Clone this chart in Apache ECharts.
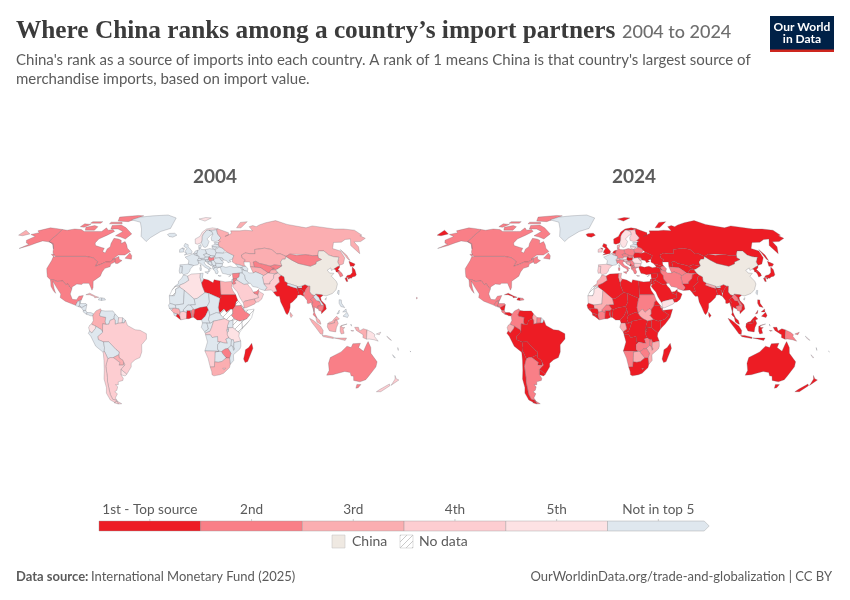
<!DOCTYPE html>
<html><head><meta charset="utf-8">
<style>html,body{margin:0;padding:0;background:#fff}#c{width:850px;height:600px}</style>
<script src="https://cdn.jsdelivr.net/npm/echarts@6/dist/echarts.min.js"></script>
</head><body><div id="c"></div>
<script>
const years = ['2004','2024'];
// rank codes: 1-5 = rank, 6 = not in top 5, 0 = China, 7 = no data
const namesAmericas = ['Canada','United States','Mexico','Greenland','Guatemala','Belize','Honduras','El Salvador','Nicaragua','Costa Rica','Panama','Cuba','Haiti','Dominican Republic','Colombia','Venezuela','Guyana','Suriname','French Guiana','Brazil','Ecuador','Peru','Bolivia','Paraguay','Uruguay','Argentina','Chile'];
const rank2004Americas = [2,2,2,6,6,6,6,6,6,6,6,3,6,6,3,6,6,5,6,4,5,6,6,3,5,4,4];
const rank2024Americas = [2,2,2,6,2,2,2,2,1,2,1,1,1,2,2,1,3,2,6,1,3,1,1,1,1,2,1];
const namesEurope = ['Iceland','Ireland','United Kingdom','Norway','Sweden','Finland','Denmark','Estonia','Latvia','Lithuania','Belarus','Poland','Germany','Netherlands','Belgium','France','Spain','Portugal','Switzerland','Austria','Italy','Czechia','Slovakia','Hungary','Slovenia','Croatia','Bosnia','Serbia','Montenegro','Albania','North Macedonia','Greece','Bulgaria','Romania','Moldova','Ukraine','Russia','Cyprus'];
const rank2004Europe = [6,6,6,5,6,6,6,6,6,6,6,6,6,6,6,6,6,6,6,6,6,6,6,2,6,6,6,6,6,6,6,6,6,6,6,6,3,6];
const rank2024Europe = [1,4,1,1,5,4,3,6,6,5,2,2,2,1,3,6,4,4,3,5,2,2,2,1,4,3,3,2,1,2,2,2,4,5,3,1,1,2];
const namesWestAsia = ['Turkey','Georgia','Armenia','Azerbaijan','Kazakhstan','Uzbekistan','Turkmenistan','Kyrgyzstan','Tajikistan','Afghanistan','Pakistan','Iran','Iraq','Syria','Israel','Jordan','Saudi Arabia','Yemen','Oman','UAE'];
const rank2004WestAsia = [6,6,6,6,3,2,3,2,3,4,4,6,6,2,6,2,4,3,4,2];
const rank2024WestAsia = [1,1,1,2,1,1,2,1,1,2,1,2,1,1,1,1,1,5,1,1];
const namesEastAsia = ['China','Mongolia','India','Nepal','Bhutan','Bangladesh','Sri Lanka','Myanmar','Thailand','Laos','Cambodia','Vietnam','Malaysia','Indonesia','Philippines','Papua New Guinea','North Korea','South Korea','Japan','Taiwan'];
const rank2004EastAsia = [0,2,1,6,6,1,3,2,2,6,2,1,3,3,6,5,1,2,1,6];
const rank2024EastAsia = [0,1,1,3,6,1,1,1,1,2,2,1,1,1,1,2,1,1,1,6];
const namesOceania = ['Australia','New Zealand','Fiji','Solomon Islands','New Caledonia','Vanuatu'];
const rank2004Oceania = [2,4,5,5,6,6];
const rank2024Oceania = [1,1,2,5,5,5];
const namesAfrica = ['Morocco','Western Sahara','Algeria','Tunisia','Libya','Egypt','Sudan','South Sudan','Eritrea','Djibouti','Ethiopia','Somalia','Kenya','Uganda','Tanzania','Rwanda','Burundi','Mauritania','Senegal','Guinea-Bissau','Guinea','Sierra Leone','Liberia','Ivory Coast','Ghana','Togo','Benin','Burkina Faso','Mali','Niger','Nigeria','Chad','Cameroon','Central African Rep.','Gabon','Congo','DR Congo','Angola','Zambia','Malawi','Mozambique','Zimbabwe','Botswana','Namibia','South Africa','Lesotho','Madagascar'];
const rank2004Africa = [6,7,5,6,1,3,1,7,7,6,2,7,7,6,5,6,6,6,6,6,3,6,1,4,1,2,2,6,6,6,1,6,6,6,6,6,4,6,6,6,6,2,6,4,3,5,1];
const rank2024Africa = [3,7,1,3,1,1,2,3,1,1,1,1,1,1,1,1,1,5,1,1,1,1,1,2,1,1,1,2,3,1,1,1,1,1,3,1,1,1,2,2,3,2,3,2,1,2,1];

const countries = [...namesAmericas,...namesEurope,...namesWestAsia,...namesEastAsia,...namesOceania,...namesAfrica];
const rank2004 = [...rank2004Americas,...rank2004Europe,...rank2004WestAsia,...rank2004EastAsia,...rank2004Oceania,...rank2004Africa];
const rank2024 = [...rank2024Americas,...rank2024Europe,...rank2024WestAsia,...rank2024EastAsia,...rank2024Oceania,...rank2024Africa];

const legendLabels = ['1st - Top source','2nd','3rd','4th','5th','Not in top 5'];
const rankColors = {1:'#ed1c24',2:'#f97f87',3:'#fbaeb1',4:'#fdcdd1',5:'#fde2e4',6:'#dfe7ee',0:'#efe9e2'};

// Base map outlines (lon,lat); ';' separates parts of one country
const outlines = {
'Canada':'-141,69.6 -135,69 -128,70 -120,69.5 -115,68 -108,68 -100,68 -96,68 -94,71 -90,69 -85,69.5 -82,68 -87,65 -93,62 -94,59 -92,57 -85,55.5 -82,55 -82,52.5 -79,51.5 -79,54.5 -77,56 -78,58.5 -78,62.5 -73,62 -69.5,61 -68,58.5 -65,60 -62,57.5 -60,55 -56,52.5 -60,50 -66,50 -70,47 -65,49 -64,47 -61,46 -64,44 -66,44 -67,45 -68,47.3 -70,46 -71.5,45 -75,45 -79,43.3 -83,42 -82.5,45.3 -88,48 -95,49 -123,49 -125,50 -128,52 -130,54.5 -135,58.5 -137.5,59 -141,60;-62,66 -66,62 -72,63.5 -78,64.5 -73,68 -80,70 -88,70 -90,73 -80,73.5 -72,71;-105,69 -115,69 -118,71.5 -110,73 -105,72;-62,82.5 -75,76.5 -88,77 -92,81 -70,83;-125,72 -120,71.5 -116,74 -124,74.5;-59,47.7 -53,47 -53.5,49.5 -56,51.5;-95,74.5 -80,74.5 -82,76 -95,76;-118,75 -106,75 -106,76.5 -118,76.5;-128,50.5 -124,48.5 -123.5,49 -126,50.8',
'United States':'-123,49 -95,49 -88,48 -82.5,45.3 -83,42 -79,43.3 -75,45 -71.5,45 -70,46 -68,47.3 -67,45 -70,43.5 -70,41.7 -74,40.5 -75.5,38 -76,35 -81,31.5 -80,27 -80.5,25.2 -82.5,28 -84,30 -89,30 -90,29.2 -94,29.5 -97.3,27.5 -97.2,26 -99.5,27.5 -101.5,29.7 -103,29 -106.5,31.8 -108.2,31.5 -111,31.3 -114.8,32.5 -117.1,32.5 -120.5,34.5 -122.5,37.5 -124.3,40.4 -124,46 -124.7,48.4;-141,69.6 -141,60 -137.5,59 -135,58.5 -130,54.5 -134,57.5 -139,59.6 -148,60.5 -152,59 -156,57 -163,54.8 -158,58 -162,59 -165,61 -161,64 -168,65.5 -162,67 -166,68.5 -157,71 -150,70.5;-156,20.2 -155,19.7 -155.7,19',
'Mexico':'-117.1,32.5 -114.8,32.5 -111,31.3 -108.2,31.5 -106.5,31.8 -103,29 -101.5,29.7 -99.5,27.5 -97.2,26 -97.8,22.5 -95.5,18.8 -92,18.5 -90.5,21 -87,21.5 -88,18.5 -89.2,17.9 -91,17.2 -92.2,14.6 -96,15.8 -101,17.5 -105.5,20 -105.5,22.5 -109.5,26.5 -112.5,29.5 -114.7,31.5 -112,26.5 -109.8,23 -112,24.8 -115,28 -116,30.5',
'Greenland':'-73,78.2 -60,76 -54,70 -51,64 -44,60 -41,63 -32,68 -22,70.5 -20,75 -18,80 -30,83.5 -50,82.5 -65,81',
'Guatemala':'-92.2,14.6 -91,17.2 -89.2,17.9 -88.9,15.9 -89.2,14 -91,13.9',
'Belize':'-89.2,17.9 -88.2,18.4 -88.9,15.9',
'Honduras':'-88.9,15.9 -84,15.8 -83.2,15 -87,13 -89.2,14',
'El Salvador':'-90,13.7 -89.2,14 -87.7,13.4 -88.5,13.2',
'Nicaragua':'-87,13 -83.2,15 -83.7,11 -85.7,11 -87.6,13',
'Costa Rica':'-85.7,11 -83.7,11 -82.6,9.5 -83,8.3 -85.7,10',
'Panama':'-83,8.3 -82.6,9.5 -79.5,9.5 -77.3,8.6 -77.9,7.2 -80,7.3 -81,7.8',
'Cuba':'-85,22 -82,23.1 -77,21 -74.2,20.2 -77.5,19.9 -78,20.8 -82,22',
'Haiti':'-74.4,18.4 -71.7,18 -71.7,19.8 -73.5,19.9',
'Dominican Republic':'-71.7,18 -68.5,18.4 -69.5,19.5 -71.7,19.8',
'Colombia':'-77.3,8.6 -75.5,10.7 -72,12.2 -71.3,11 -72.5,8 -72,7 -67.5,6.2 -67.8,3 -67,1.2 -69.8,1.7 -69.8,-4.2 -70.8,-2.5 -75.2,-0.1 -78.8,1.4 -77.3,3.9 -77.9,7.2',
'Venezuela':'-71.3,11 -71.5,10.9 -68,10.6 -62,10.7 -60,8.5 -60.7,7 -60.7,5.2 -64,4 -64.8,1.4 -67,1.2 -67.8,3 -67.5,6.2 -72,7 -72.5,8',
'Guyana':'-60,8.5 -57.2,6 -57.5,2 -59.8,1.3 -59.9,4 -60.7,5.2 -60.7,7',
'Suriname':'-57.2,6 -54,5.9 -54.2,2.3 -57.5,2',
'French Guiana':'-54,5.9 -51.7,4.2 -52.7,2.2 -54.2,2.3',
'Brazil':'-51.7,4.2 -50,0.5 -44,-2.5 -40,-2.9 -35,-5.3 -35,-9 -39,-13 -39.2,-18 -41,-22 -45,-23.5 -48.5,-26 -48.8,-28.5 -53.4,-33.7 -57.6,-30.2 -53.8,-27.2 -54.6,-25.5 -55,-24 -58,-22 -58,-20 -57.5,-18 -60,-16.3 -65.3,-10.9 -69.5,-11 -73.5,-9.5 -74,-7.3 -70,-4.3 -69.8,-4.2 -69.8,1.7 -67,1.2 -64.8,1.4 -64,4 -60.7,5.2 -59.9,4 -59.8,1.3 -57.5,2 -54.2,2.3 -52.7,2.2',
'Ecuador':'-78.8,1.4 -75.2,-0.1 -75.5,-1.5 -78.5,-4.8 -80.3,-3.4 -81,-1 -80,0.8',
'Peru':'-75.2,-0.1 -70.8,-2.5 -69.8,-4.2 -70,-4.3 -74,-7.3 -73.5,-9.5 -69.5,-11 -69,-15 -69.5,-17.5 -70.4,-18.3 -76,-14 -79.5,-7 -81.3,-5 -80.3,-3.4 -78.5,-4.8 -75.5,-1.5',
'Bolivia':'-69.5,-11 -65.3,-10.9 -60,-16.3 -57.5,-18 -58,-20 -62.7,-22 -65,-22 -67.2,-22.8 -68.5,-19.5 -69.5,-17.5 -69,-15',
'Paraguay':'-58,-20 -58,-22 -55,-24 -54.6,-25.5 -55,-27.3 -58.6,-27.3 -57.7,-25.5 -62.7,-22',
'Uruguay':'-57.6,-30.2 -53.4,-33.7 -55,-34.9 -58.4,-34 -58,-32',
'Argentina':'-65,-22 -62.7,-22 -57.7,-25.5 -58.6,-27.3 -55,-27.3 -54.6,-25.5 -53.8,-27.2 -57.6,-30.2 -58,-32 -58.4,-34 -57,-36.5 -57.7,-38 -62,-39 -62.5,-41 -65,-41 -63.6,-42.5 -65.3,-45 -67.5,-46 -65.8,-47.5 -69,-50.5 -68.4,-52.3 -72,-51.5 -72.5,-48 -71.8,-44 -71.2,-39 -70.3,-36 -70,-33 -69.7,-28 -68.3,-25 -67.2,-22.8;-68.6,-52.7 -65.2,-54.7 -68.6,-54.9',
'Chile':'-70.4,-18.3 -69.5,-17.5 -68.5,-19.5 -67.2,-22.8 -68.3,-25 -69.7,-28 -70,-33 -70.3,-36 -71.2,-39 -71.8,-44 -72.5,-48 -72,-51.5 -68.4,-52.3 -71,-53.8 -74.5,-52 -75.5,-47 -73.7,-43 -73.5,-37 -71.6,-31 -70.5,-24;-68.6,-52.7 -68.6,-54.9 -72,-54',
'Iceland':'-24,65.5 -22,64 -18,63.4 -14,65 -16.5,66.5 -22,66.4',
'Ireland':'-10,52 -6.2,52.2 -6,54 -7.5,55.2 -10,54',
'United Kingdom':'-5.5,50 1.3,51.2 1.7,52.7 -0.2,54.5 -2,56 -2,57.6 -5,58.6 -6.2,56.5 -3,54.8 -4.5,53.2 -5,51.7 -3,51.4;-7.5,55.2 -6,54 -5.5,54.8',
'Norway':'5,58.5 7,58 10.7,59 12,61 12.5,64 14,66 18,69 22,69 25,69 29,69.5 31,70.2 25,71 18,70 13,67.5 10,64 5,62;11,79 20,80.5 27,80 18,77',
'Sweden':'11,59 12.7,56 14.3,55.5 16.5,56.5 18.8,60 17,62 21.5,65 24,65.8 23.5,68 20.5,69 18,69 14,66 12.5,64 12,61',
'Finland':'24,65.8 21.5,63 21.5,60.8 25,60 28,60.5 31.5,62.8 29,66 29,69.5 25,69 20.5,69 23.5,68',
'Denmark':'8.2,55 9.5,55 10.6,56 10.5,57.7 8.2,57',
'Estonia':'23.5,59.2 28,59.4 27.5,57.6 24.5,58',
'Latvia':'21,57 24.5,58 27.5,57.6 28,56 26,55.7 21,56.2',
'Lithuania':'21,56.2 26,55.7 26.5,55 23.3,54 21,55',
'Belarus':'23.3,54 26.5,55 28,56 31,55 32.5,53.3 30.5,51.3 24,51.6',
'Poland':'14.2,53.9 18.5,54.7 23.3,54 24,51.6 22.7,49.2 19,49.5 15,51',
'Germany':'6,51 7,53.5 8.7,54 8.2,55 9.5,55 11,54 14.2,53.9 15,51 12.3,50.3 13.8,48.7 13,47.6 7.6,47.6 8,49 6.2,49.5',
'Netherlands':'3.5,51.4 6,51 7,53.5 4.8,53',
'Belgium':'2.6,51 3.5,51.4 6,51 6.2,49.5 4.2,50',
'France':'-1.8,43.4 3,42.5 6.5,43 7.5,43.8 7,46 6.2,46.3 7.6,47.6 8,49 6.2,49.5 4.2,50 2.6,51 -1.5,49.5 -4.7,48.5 -1.2,46;8.6,43 9.5,43 9.3,41.5 8.7,41.7',
'Spain':'-9.2,43 -1.8,43.4 3,42.5 0,40 -0.3,38.7 -2,36.8 -5.5,36 -7.3,37.2 -7,41.9 -8.8,41.9',
'Portugal':'-9,41.9 -7,41.9 -7.3,37.2 -9,37 -9.5,38.7',
'Switzerland':'6.2,46.3 7.6,47.6 9.6,47.5 10.4,46.6 8.5,46 7,46',
'Austria':'9.6,47.5 13,47.6 13.8,48.7 17,48.7 16.2,46.9 13.5,46.5 10.4,46.6',
'Italy':'7,46 8.5,46 10.4,46.6 13.5,46.5 13.7,45.5 12.3,44.5 14,42.5 16,41.8 18.4,40.2 16.8,40.5 17,39 16,38 15.7,40 12.5,41.5 10.5,43 8.5,44.4 7.5,43.8;12.5,38 15.6,38.2 15,36.7;8.3,41 9.7,41 9.5,39 8.5,39',
'Czechia':'12.3,50.3 15,51 18.8,49.6 17,48.7 13.8,48.7',
'Slovakia':'17,48.7 18.8,49.6 22.5,49.1 22,48.4 18.8,47.8',
'Hungary':'16.2,46.9 17,48.7 18.8,47.8 22,48.4 22.8,47.9 21,46.2 18.8,45.9 17,45.9',
'Slovenia':'13.5,46.5 16.2,46.9 15.5,45.5 13.7,45.5',
'Croatia':'13.7,45.5 15.5,45.5 17,45.9 19,45 15.8,45.2 16,43.8 18.4,42.6 17.6,42.9 15.5,44',
'Bosnia':'15.8,45.2 19,45 19.3,43.5 18.4,42.6 16,43.8',
'Serbia':'18.8,45.9 21,46.2 22.6,44.2 22.4,42.4 20.5,42.2 20.2,42.8 19.3,43.5 19,45',
'Montenegro':'18.4,42.6 19.3,43.5 20.2,42.8 19.3,42',
'Albania':'19.4,42 20.5,42.2 21,40.9 20,39.7 19.4,40.5',
'North Macedonia':'20.5,42.2 22.4,42.4 22.9,41.3 21,40.9',
'Greece':'20,39.7 21,40.9 22.9,41.3 26.2,41.5 24,40.8 23,40 24,38 23,36.6 21.7,36.9 21.2,38.5;23.5,35.5 26.2,35.2 24.5,34.9',
'Bulgaria':'22.6,44.2 28.6,43.8 27.8,42 26.2,41.5 22.9,41.3 22.4,42.4',
'Romania':'21,46.2 22.8,47.9 26.5,48.2 28.1,46 29.6,45 28.6,43.8 22.6,44.2',
'Moldova':'26.5,48.2 29,48 30,46.4 28.1,46',
'Ukraine':'24,51.6 30.5,51.3 34,52.3 40,49.6 38,47 35,46.2 36.5,45.3 33.5,44.5 32.5,46 30,46.4 29,48 26.5,48.2 22.8,47.9 22.5,49.1 22.7,49.2',
'Russia':'28,56 27.5,57.6 28,59.4 30,60 28,60.5 31.5,62.8 29,66 29,69.5 31,70 41,67 40,65 36,64 44,66.5 44,68.5 54,68.5 60,69 68,68.5 67,72 72,73 75,72 80,73.5 90,75.5 105,77.5 113,74 130,71 140,72.7 160,70 170,70 180,69 180,65 177,64.5 179,62.5 170,60 163,59.8 162,56 156.8,51 155.8,57 163,62 157,61.6 150,59.5 142,59.3 135.5,54.7 141,53 140,48 135,43.6 131,42.7 130.7,42.3 131,45 135,48.4 130.5,48.8 127,50 125.5,53 120.5,53 117,49.7 112,49.5 106,50.3 98,50.5 97.5,49.8 92,50.7 87.3,49 83,51 80,50.8 77,54 71,55 61,54 60,51 55,51 51,51.5 47,50 47,48 49.5,46.5 47.7,45 47.5,43 48.5,41.8 46.5,41.9 43,43 40,43.5 37.5,45 38,47 40,49.6 34,52.3 32.5,53.3 31,55;142,54 143.5,50 143,46 142,47;52,71 57,71 69,76.5 60,75.8;-180,69 -170,66 -175,64.5 -180,65',
'Cyprus':'32.5,34.7 34.5,35.6 33,35.1',
'Turkey':'26.2,41.5 28,42 31,41.2 35,42 38,41 41.5,41.5 43.5,41 44.8,39.7 44.5,37.2 42,37.2 36.5,36.5 36,36.8 32,36 30.5,36.5 27.5,37 26.5,39.5',
'Georgia':'40,43.5 43,43 46.5,41.9 45,41 43.5,41 41.5,41.5',
'Armenia':'43.5,41 45,41 46.5,39 44.8,39.7',
'Azerbaijan':'46.5,41.9 48.5,41.8 50,40.3 49,38.4 46.5,39 45,41',
'Kazakhstan':'47,50 51,51.5 55,51 60,51 61,54 71,55 77,54 80,50.8 83,51 87.3,49 85.5,47 83,47 80.3,45 80.3,42.2 74,43 70,42 66,43 61,44 58.5,45.5 56,45 56,41.3 52.5,41.7 53,45 50,45 47.7,45 49.5,46.5 47,48',
'Uzbekistan':'56,45 58.5,45.5 61,44 66,43 70,42 71,41 73,40.5 70,39.5 67.5,37.3 66.5,37.3 64,39 61,41 56,41.3',
'Turkmenistan':'52.5,41.7 56,41.3 61,41 64,39 66.5,37.3 62,35.3 60,36.5 56,38 53.8,37.3 53,39.5',
'Kyrgyzstan':'70,42 74,43 80.3,42.2 76,40.3 73.7,39.5 70,39.5 73,40.5 71,41',
'Tajikistan':'67.5,37.3 70,39.5 73.7,39.5 75,37.3 71.5,36.8 68,37',
'Afghanistan':'62,35.3 66.5,37.3 68,37 71.5,36.8 75,37.3 71,36 70,33.5 66.5,31 66,29.5 61,29.5 61,31.5 60.8,34.5',
'Pakistan':'61,25 66.5,25.4 68,23.7 71,24.5 70,28 74.5,31 74.5,34 77,35.5 75,37.3 71,36 70,33.5 66.5,31 66,29.5 61,29.5 63,27',
'Iran':'44.8,39.7 46.5,39 49,38.4 50,37.3 53.8,37.3 56,38 60,36.5 62,35.3 60.8,34.5 61,31.5 61,29.5 63,27 61,25 57,26 56,27 51.5,27.8 50,30 48.5,30 46,33 46,35.5 44.5,37.2',
'Iraq':'42,37.2 44.5,37.2 46,35.5 46,33 48.5,30 47.5,29.5 44.5,29.2 39,32.2 38.8,33.4 41,34.5',
'Syria':'36,36.8 36.5,36.5 42,37.2 41,34.5 38.8,33.4 36,33 35.8,35',
'Israel':'34.3,31.3 35.1,33 36,33 35.5,31 35,29.5',
'Jordan':'35.5,31 36,33 38.8,33.4 39,32.2 37,31.5 38,30 36,29.2 35,29.5',
'Saudi Arabia':'35,28 36,29.2 38,30 37,31.5 39,32.2 44.5,29.2 47.5,29.5 48.5,28 50,26.5 51.2,24.3 52,23 55,22 55.5,20 52,19 49,18.5 44,17.5 43.2,17 42.5,16.5 40,20.5 38.5,24 36.5,26',
'Yemen':'42.8,16.5 43.3,12.8 45,12.9 52,15.6 53,16.7 52,19 49,18.5 44,17.5 43.2,17',
'Oman':'55,22 56,24.5 56.4,24.9 59.8,22.5 57.8,18.9 55,17 53,16.7 52,19 55.5,20',
'UAE':'51.7,24 54,24.2 56.3,25.8 56,24.5 55,22 52,23',
'China':'73.7,39.5 76,40.3 80.3,42.2 80.3,45 83,47 85.5,47 87.3,49 90.8,46.5 95.5,44 105,42 111,43.7 111.8,45 118,46.8 116,48 117,49.7 120.5,53 125.5,53 127,50 130.5,48.8 135,48.4 131,45 130.7,42.3 128,41.5 124.3,40 121.5,39 122,40.8 118,39.2 119,37.2 122.5,37 119.3,35 121.8,31.5 122,29.5 119.5,25.5 116,22.9 110.5,21.2 108,21.6 106.7,22 102.2,22.4 101.2,21.3 99,22 97.6,24 98.7,28 97.3,28 95,29 92,28 88.8,27.5 88,28 81,30 78.7,31.5 79,34.5 77,35.5 75,37.3;109,19 110.5,20 111,19.5 109.7,18.2',
'Mongolia':'87.3,49 92,50.7 97.5,49.8 98,50.5 106,50.3 112,49.5 117,49.7 116,48 118,46.8 111.8,45 111,43.7 105,42 95.5,44 90.8,46.5',
'India':'68,23.7 69,22.3 70.3,20.9 72.5,21 73,17 74.8,13 76.5,9 77.5,8 79,10 80.2,13 80.5,15.8 82.5,17 86.5,20 87.5,21.8 88.8,21.8 88.2,24.3 88,26 89.8,26 92.3,25 92.3,23 93,22.5 93.5,24 95,26 97.3,28 95,29 92,28 92,26.8 89,26.8 88.8,27.5 88,28 88,26.4 84,27.4 80,28.8 81,30 78.7,31.5 79,34.5 77,35.5 74.5,34 74.5,31 70,28 71,24.5',
'Nepal':'80,28.8 81,30 88,28 88,26.4 84,27.4',
'Bhutan':'88.8,27.5 92,28 92,26.8 89,26.8',
'Bangladesh':'88,26 89.8,26 92.3,25 92.3,21 90,22 88.8,21.8 88.2,24.3',
'Sri Lanka':'80,9.7 81.8,7.5 80.5,6 79.8,7.5',
'Myanmar':'92.3,21 94.5,18 94.3,16 95.5,15.8 97.5,16.5 98.6,12 99,10 98.8,13 98.2,15 99,17 97.6,18.5 100,20.5 101.2,21.3 99,22 97.6,24 98.7,28 97.3,28 95,26 93.5,24 93,22.5',
'Thailand':'99,17 98.2,15 98.8,13 99,10 98.2,8 100,6.5 101.2,5.8 102,6 100.4,7.5 99.3,10 100,13.5 101,12.7 102.8,12 102.5,14 105.5,14.4 104.5,17.5 102,18 100.8,19.5 100,20.5 97.6,18.5',
'Laos':'100,20.5 100.8,19.5 102,18 104.5,17.5 105.5,14.4 107.5,14.6 105,18.5 104.5,20 102.2,22.4 101.2,21.3',
'Cambodia':'102.5,14 105.5,14.4 107.5,14.6 106.5,11.5 105,10.4 103,11',
'Vietnam':'102.2,22.4 104.5,20 105,18.5 107.5,14.6 106.5,11.5 105,10.4 105,8.7 107,10.4 109.2,12 108.8,15 106,18 105.7,20 108,21.6 106.7,22',
'Malaysia':'100.4,6.5 101.2,5.8 102,6 103.4,4 104.2,1.4 103.3,1.5 101,3 100.3,5.5;109.6,1.8 111,1.5 115,2.3 115.5,4.3 117,4.3 119,5 117,7 115,5.3 113,3.2 111,2.8',
'Indonesia':'95.2,5.5 98,4.2 103.8,0 106,-3 105.8,-5.8 104,-5.5 100.5,-1.5 97,2.5;105.2,-6.5 108.5,-6.5 114.5,-7.7 114.5,-8.7 106.5,-7.4;109.6,1.8 111,1.5 115,2.3 115.5,4.3 117,4.3 118,2 116.5,-1 116,-4 111,-3.3 109.2,-0.5;119.5,0 125,1.5 120.5,0.5 121,-1 123.2,-1 121.8,-2 122.8,-5 120.5,-5.5 119.5,-3.5;131,-0.8 134,-0.8 135,-3.3 138,-1.8 141,-2.6 141,-9.1 138,-8 138,-6 135,-4.4 132.5,-3;115,-8.2 119,-8.3 125,-8.3 124,-10 119,-9;128,1.5 128.5,0 127.8,-0.5;128,-3 130.5,-3.2 129,-3.5',
'Philippines':'120.5,18.5 122.2,18.4 122,16 124,13 121,13.8 120,16;122,7 125.5,9.7 126.5,7.5 125.5,6 124,6.5;122,10 125,12 125,10;117.3,8.5 119.5,11.2 119,9',
'Papua New Guinea':'141,-2.6 145,-4.3 147.5,-6 147,-7 150.5,-10.5 147,-9.5 143,-9 141,-9.1;148.5,-5.5 152,-4.2 151,-6',
'North Korea':'124.3,40 128,41.5 130.7,42.3 129.7,41 127.5,39.7 128.3,38.6 126,38 125,38 125.3,39.5',
'South Korea':'126,38 128.3,38.6 129.4,37 129.3,35.3 126.5,34.4 126.5,36.5',
'Japan':'131,34 133,35.5 136,36 138.5,37.5 140,40 141.2,41.4 142,39.5 141,36 139.5,35 136.8,34.5 135.5,33.5 132,34;140,42 141.5,45.5 145.3,43.5 143,42;130,33.5 131.8,33.8 131.4,31.3 130.2,31.2;132.5,33.5 134.5,34 134,33.3 133,32.8',
'Taiwan':'121,25 122,25 121,22 120,23',
'Australia':'114,-22 122,-18 126,-14 129.5,-15 130.5,-12.3 136.5,-12 135.5,-15 140,-17.6 141.6,-12.7 142.5,-10.8 145.3,-15 146.3,-19 153,-25 153.5,-28.5 150.8,-35 150,-37.5 146,-39 140,-38 138,-35 135.8,-34.8 134,-32.5 129,-31.7 124,-33 120,-34 115,-34.3 115.7,-31 113.5,-26;144.7,-40.8 148.3,-40.9 147.8,-43.2 146,-43.5',
'New Zealand':'172.7,-34.5 175.5,-36.8 178.5,-37.7 175,-41.5 174.8,-39 174.7,-37;172.7,-40.5 174.3,-41.7 170.5,-46 166.5,-46 168,-44.3',
'Fiji':'177.5,-17.5 178.5,-18 178,-18.5',
'Solomon Islands':'157,-7 160,-9 161,-10 159,-9',
'New Caledonia':'164,-20 167,-22 166,-22',
'Vanuatu':'167,-15 168,-17 167.3,-16.5',
'Morocco':'-5.9,35.8 -2.2,35.1 -1.2,32.1 -5,30 -8.7,28.7 -13,27.7 -9.8,29.8 -9.8,31.5 -7,33.8',
'Western Sahara':'-13,27.7 -8.7,27.7 -8.7,27.3 -12,26 -12,23.4 -13,21.3 -17,21.3 -14.5,26',
'Algeria':'-2.2,35.1 1,36.5 8.6,36.9 8.3,34 9.5,30.2 10,28 12,23.5 5.8,19.5 3.2,19 -4.8,25 -8.7,27.3 -8.7,28.7 -5,30 -1.2,32.1',
'Tunisia':'8.6,36.9 11,37.1 10.2,34 11.5,33 9.5,30.2 8.3,34',
'Libya':'11.5,33 15,32.3 19,30.4 20,32.5 25,31.7 25,22 25,20 24,19.5 15,23 12,23.5 10,28 9.5,30.2',
'Egypt':'25,31.7 29,31 34.3,31.3 35,29.5 34,27.5 33.5,28 34.8,25 37,22 25,22',
'Sudan':'25,22 37,22 38.5,18 37,17 36.4,14.3 34,11.5 32.5,12 29,9.7 27,12 23.5,9 22.5,13 24,19.5 25,20',
'South Sudan':'23.5,9 27,12 29,9.7 32.5,12 34,11.5 34,8.5 33,7.5 35.9,4.6 34,4.2 31,3.6 27.4,5.2 25,7',
'Eritrea':'36.4,14.3 37,17 38.5,18 43.1,12.7 41,14.5 37.5,14.3',
'Djibouti':'42,12.5 43.2,12.5 43,11',
'Ethiopia':'34,11.5 36.4,14.3 37.5,14.3 41,14.5 42,12.5 43,11 47.9,8 45,5 42,4 41,3.9 39.5,3.5 35.9,4.6 33,7.5 34,8.5',
'Somalia':'43,11 43.2,11.4 51.2,11.9 49,6 45,1.5 41.5,-1.7 41,3.9 42,4 45,5 47.9,8',
'Kenya':'35.9,4.6 39.5,3.5 41,3.9 41.5,-1.7 39.2,-4.7 33.9,-1 34,4.2',
'Uganda':'31,3.6 34,4.2 33.9,-1 30.5,-1.2 29.6,-1.4 29.7,0.5',
'Tanzania':'29.6,-1.4 30.5,-1.2 33.9,-1 39.2,-4.7 38.8,-7 40.4,-10.4 35,-11.5 34.5,-9.5 33,-9.5 30.8,-8.2 29.5,-6 29.5,-4.4 30.5,-3.5 30.5,-2.4',
'Rwanda':'29,-1.4 30.5,-1.2 30.5,-2.4 29,-2.8',
'Burundi':'29,-2.8 30.5,-2.4 30.5,-3.5 29.5,-4.4',
'Mauritania':'-17,21.3 -13,21.3 -12,23.4 -12,26 -8.7,27.3 -4.8,25 -5.5,15.5 -12,14.8 -16.5,16',
'Senegal':'-17.5,14.7 -16.5,16 -12,14.8 -11.5,12.5 -13.7,12.5 -16.7,12.4',
'Guinea-Bissau':'-16.7,12.4 -13.7,12.5 -15,11',
'Guinea':'-15,11 -13.7,12.5 -11.5,12.5 -9,12.2 -8,10 -8.5,7.6 -10.3,8.5 -13.2,9.2',
'Sierra Leone':'-13.2,9.2 -10.3,8.5 -11.3,7 -12.9,7.6',
'Liberia':'-11.3,7 -10.3,8.5 -8.5,7.6 -7.5,4.4',
'Ivory Coast':'-7.5,4.4 -8.5,7.6 -8,10 -5.5,10.4 -2.8,9.7 -3,5.2',
'Ghana':'-3,5.2 -2.8,9.7 -2.8,11 0,11 1.2,6.1 -1,5.2',
'Togo':'0,11 1,11 1.6,6.2 1.2,6.1',
'Benin':'1,11 2.4,12.2 3.6,11.7 2.7,6.3 1.6,6.2',
'Burkina Faso':'-5.5,10.4 -5.5,11.5 -2,15 0.2,14.9 2.4,12.2 1,11 0,11 -2.8,11 -2.8,9.7',
'Mali':'-12,14.8 -5.5,15.5 -4.8,25 3.2,19 4.2,15 0.2,14.9 -2,15 -5.5,11.5 -5.5,10.4 -8,10 -9,12.2 -11.5,12.5',
'Niger':'0.2,14.9 4.2,15 3.2,19 5.8,19.5 12,23.5 15,23 15.5,16.9 13.5,13.7 8,13 3.6,11.7 2.4,12.2',
'Nigeria':'2.7,6.3 3.6,11.7 8,13 13.5,13.7 14.5,11.5 12,7 9,4.3 5.5,4.3',
'Chad':'15,23 24,19.5 22.5,13 23.5,9 21,9.5 15.5,7.5 15,10 14.5,11.5 13.5,13.7 15.5,16.9',
'Cameroon':'9,4.3 12,7 14.5,11.5 15,10 15.5,7.5 14.5,4.5 16,2 13.3,2.2 9.8,2.2',
'Central African Rep.':'15.5,7.5 21,9.5 23.5,9 25,7 27.4,5.2 22.5,4.2 18.6,3.5 16,2 14.5,4.5',
'Gabon':'9.8,2.2 13.3,2.2 14.5,-2 11.5,-4 8.8,-0.8',
'Congo':'13.3,2.2 16,2 18.6,3.5 17,-1 15.8,-3.5 12,-5 11.5,-4 14.5,-2',
'DR Congo':'18.6,3.5 22.5,4.2 27.4,5.2 31,3.6 29.7,0.5 29.6,-1.4 29,-1.4 29,-2.8 29.5,-4.4 29.5,-6 30.8,-8.2 28.5,-9 29.8,-12 27.5,-11.8 24,-11 22,-11 21.8,-7.3 17.5,-8 16,-6 12.2,-6 12,-5 15.8,-3.5 17,-1',
'Angola':'12.2,-6 16,-6 17.5,-8 21.8,-7.3 22,-11 24,-11 22,-13 22,-16 23.4,-17.6 19,-17.5 11.8,-17.3 13.8,-11 13,-8.5',
'Zambia':'22,-13 24,-11 27.5,-11.8 29.8,-12 28.5,-9 30.8,-8.2 33,-9.5 32.8,-13.6 30.4,-15.6 28,-16 25.3,-17.8 23.4,-17.6 22,-16',
'Malawi':'33,-9.5 34.5,-9.5 35,-11.5 35,-14.5 35.8,-16 35,-17 34,-14 32.8,-13.6',
'Mozambique':'40.4,-10.4 35,-11.5 35,-14.5 35.8,-16 35,-17 34,-14 32.8,-13.6 30.4,-15.6 33,-19 32,-22.3 32.9,-26.8 35.5,-24 35,-20 40,-16 40.7,-14',
'Zimbabwe':'25.3,-17.8 28,-16 30.4,-15.6 33,-19 32,-22.3 29.3,-22.2 26,-19',
'Botswana':'20,-18 23.4,-17.6 25.3,-17.8 26,-19 29.3,-22.2 26,-24.7 23,-25.3 20,-25 20,-22',
'Namibia':'11.8,-17.3 19,-17.5 23.4,-17.6 20,-18 20,-22 20,-28.5 16.5,-28.6 14.5,-22.5',
'South Africa':'16.5,-28.6 20,-28.5 20,-25 23,-25.3 26,-24.7 29.3,-22.2 32,-22.3 32.9,-26.8 32.5,-29 28,-33 25,-34 20,-34.8 18.3,-34 18,-32',
'Lesotho':'27,-29.5 29.3,-29.5 28,-30.6',
'Madagascar':'49.3,-12 50.5,-15.5 47,-24.8 45,-25.5 43.5,-23 44.3,-19 44.5,-16.5 47,-15'
};

const geojson = {type:'FeatureCollection',features:Object.keys(outlines).map(name=>({
  type:'Feature',properties:{name},
  geometry:{type:'MultiPolygon',coordinates:outlines[name].split(';').map(part=>{
    const ring=part.trim().split(/\s+/).map(p=>p.split(',').map(Number));
    ring.push(ring[0].slice());
    return [ring];
  })}
}))};
echarts.registerMap('world2004',geojson);
echarts.registerMap('world2024',geojson);

// Robinson projection
const PLEN=[1,.9986,.9954,.99,.9822,.973,.96,.9427,.9216,.8962,.8679,.835,.7986,.7597,.7186,.6732,.6213,.5722,.5322];
const PDFE=[0,.062,.124,.186,.248,.31,.372,.434,.4958,.5571,.6176,.6769,.7346,.7903,.8435,.8936,.9394,.9761,1];
function lerp(t,a){const v=Math.min(Math.abs(a)/5,17.9999),i=Math.floor(v);return t[i]+(t[i+1]-t[i])*(v-i);}
const robinson={
  project(p){const s=p[1]<0?-1:1;return [0.8487*lerp(PLEN,p[1])*p[0]*Math.PI/180*100,-1.3523*s*lerp(PDFE,p[1])*100];},
  unproject(q){return q;}
};

const hatch=document.createElement('canvas');hatch.width=6;hatch.height=6;
(function(){const g=hatch.getContext('2d');g.fillStyle='#fff';g.fillRect(0,0,6,6);g.strokeStyle='#c9c9c9';g.lineWidth=1;
 g.beginPath();g.moveTo(-1,7);g.lineTo(7,-1);g.moveTo(-1,1);g.lineTo(1,-1);g.moveTo(5,7);g.lineTo(7,5);g.stroke();})();
const fillFor=r=>r===7?{image:hatch,repeat:'repeat'}:rankColors[r];
const mapData=ranks=>countries.map((name,i)=>({name,value:ranks[i],itemStyle:{areaColor:fillFor(ranks[i]),color:fillFor(ranks[i])}}));

const mapSeries=(map,ranks,left)=>({type:'map',map,projection:robinson,silent:true,selectedMode:false,roam:false,
  left,top:215,width:413,height:189,label:{show:false},
  itemStyle:{borderColor:'rgba(90,90,100,0.5)',borderWidth:0.5},
  data:mapData(ranks)});

const gray='#5b5b5b';
const txt=(x,y,text,size,fill,extra)=>({type:'text',silent:true,x,y,style:Object.assign({text,font:`${size}px Lato`,fill,textVerticalAlign:'middle'},extra||{})});

const barX=99,barY=521,segW=101.7,barH=10;
const legendParts=[];
legendLabels.forEach((l,i)=>{
  const x=barX+i*segW;const c=rankColors[i+1];
  if(i<5) legendParts.push({type:'rect',silent:true,shape:{x,y:barY,width:segW,height:barH},style:{fill:c,stroke:'#9a9a9a',lineWidth:0.4}});
  else legendParts.push({type:'polygon',silent:true,shape:{points:[[x,barY],[x+segW-5,barY],[x+segW,barY+barH/2],[x+segW-5,barY+barH],[x,barY+barH]]},style:{fill:c,stroke:'#9a9a9a',lineWidth:0.4}});
  legendParts.push({type:'line',silent:true,shape:{x1:x+segW/2,y1:barY-2,x2:x+segW/2,y2:barY},style:{stroke:'#aaa',lineWidth:0.6}});
  legendParts.push(txt(x+segW/2,509.5,l,13.6,gray,{textAlign:'center'}));
});

const option={animation:false,
  series:[mapSeries('world2004',rank2004,-2),mapSeries('world2024',rank2024,416.5)],
  graphic:{elements:[
    txt(16,31,'Where China ranks among a country\u2019s import partners',25.3,'#3b3b3b',{font:'bold 25.3px "Liberation Serif"'}),
    txt(622,32,'2004 to 2024',18,'#6e6e6e',{font:'500 18px Lato'}),
    txt(16,60,"China's rank as a source of imports into each country. A rank of 1 means China is that country's largest source of",15,gray),
    txt(16,79,'merchandise imports, based on import value.',15,gray),
    {type:'rect',silent:true,shape:{x:770,y:16,width:64,height:36},style:{fill:'#002147'}},
    {type:'rect',silent:true,shape:{x:770,y:49.5,width:64,height:2.5},style:{fill:'#ce261e'}},
    txt(802,27,'Our World',12,'#fff',{font:'bold 12px Lato',textAlign:'center'}),
    txt(802,39,'in Data',12,'#fff',{font:'bold 12px Lato',textAlign:'center'}),
    txt(215,177,years[0],19,gray,{font:'bold 19px Lato',textAlign:'center'}),
    txt(634,177,years[1],19,gray,{font:'bold 19px Lato',textAlign:'center'}),
    ...legendParts,
    {type:'rect',silent:true,shape:{x:332,y:535,width:13,height:13},style:{fill:rankColors[0],stroke:'#bdbdbd',lineWidth:0.5}},
    txt(352,541,'China',14,gray),
    {type:'rect',silent:true,shape:{x:400,y:535,width:13,height:13},style:{fill:{image:hatch,repeat:'repeat'},stroke:'#bdbdbd',lineWidth:0.5}},
    txt(419,541,'No data',14,gray),
    txt(16,577,'Data source:',13,gray,{font:'bold 13px Lato'}),
    txt(91,577,'International Monetary Fund (2025)',13,gray),
    txt(832,577,'OurWorldinData.org/trade-and-globalization | CC BY',13,gray,{textAlign:'right'})
  ]}
};
echarts.init(document.getElementById('c')).setOption(option);
</script></body></html>
